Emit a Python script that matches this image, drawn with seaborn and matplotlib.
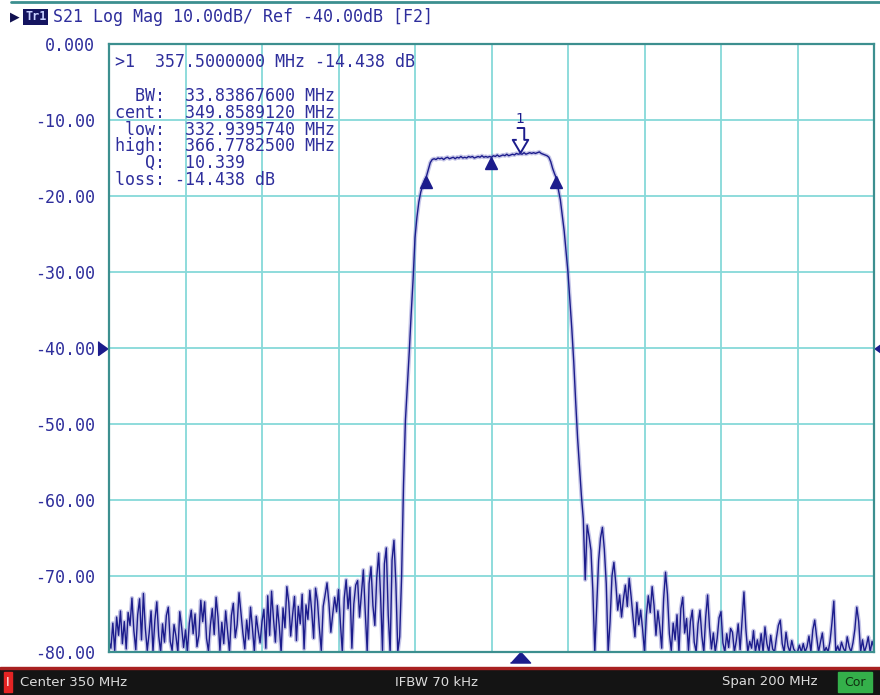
import numpy as np
import pandas as pd
import seaborn as sns
import matplotlib
matplotlib.use("Agg")
import matplotlib.pyplot as plt
from matplotlib.patches import Rectangle
from matplotlib.lines import Line2D

# sweep setup (linear sweep, 401 points)
start_mhz = 250.0
stop_mhz = 450.0
n_points = 401

# S21 log mag trace in dB, one row = 5 MHz (10 points of 0.5 MHz)
s21_db = [
    -78.6, -79.5, -76.2, -79.8, -75.4, -77.8, -74.6, -78.9, -76.0, -79.6,  # 250
    -74.8, -76.5, -72.9, -77.2, -79.7, -75.1, -73.0, -78.4, -72.3, -76.9,  # 255
    -79.8, -77.5, -74.6, -79.9, -75.8, -73.4, -77.9, -80.0, -76.3, -78.7,  # 260
    -75.2, -74.1, -78.6, -79.8, -76.4, -77.9, -80.0, -74.7, -76.8, -79.4,  # 265
    -77.1, -79.9, -76.2, -74.5, -77.6, -75.0, -79.3, -77.8, -73.2, -76.0,  # 270
    -73.4, -78.2, -79.9, -76.5, -74.3, -77.7, -72.8, -75.4, -79.8, -76.1,  # 275
    -78.9, -74.6, -77.3, -80.0, -75.2, -73.6, -78.1, -76.4, -72.2, -74.9,  # 280
    -77.5, -79.6, -75.8, -78.3, -74.1, -76.9, -79.9, -75.3, -77.2, -78.8,  # 285
    -76.0, -74.4, -79.5, -72.6, -77.8, -72.0, -75.6, -78.7, -73.9, -76.5,  # 290
    -80.0, -74.2, -76.8, -71.4, -73.5, -77.9, -75.1, -72.7, -78.5, -74.0,  # 295
    -76.3, -72.4, -79.6, -73.8, -75.7, -71.9, -74.6, -78.2, -71.6, -73.3,  # 300
    -76.9, -79.8, -74.0, -72.5, -70.9, -73.6, -77.4, -75.0, -72.8, -74.7,  # 305
    -71.8, -76.2, -80.0, -72.9, -70.5, -74.3, -71.5, -79.5, -73.7, -71.2,  # 310
    -70.6, -75.4, -72.3, -69.2, -74.8, -79.9, -71.0, -68.8, -73.9, -76.5,  # 315
    -70.2, -67.0, -72.6, -79.8, -68.4, -66.3, -75.1, -80.0, -67.9, -65.3,  # 320
    -71.0, -80.0, -78.0, -70.0, -58.0, -49.5, -45.0, -40.5, -35.5, -31.0,  # 325
    -25.5, -22.8, -20.8, -19.5, -18.6, -17.9, -17.4, -16.5, -15.6, -15.2,  # 330
    -15.1, -15.2, -15.0, -15.1, -15.0, -15.2, -15.0, -14.9, -15.1, -15.0,  # 335
    -14.9, -15.1, -14.9, -15.0, -14.8, -15.0, -14.9, -15.0, -14.8, -14.9,  # 340
    -14.8, -15.0, -14.9, -14.8, -14.9, -14.7, -14.9, -14.8, -14.9, -14.8,  # 345
    -14.9, -14.7, -14.8, -14.6, -14.8, -14.7, -14.6, -14.7, -14.5, -14.7,  # 350
    -14.6, -14.5, -14.6, -14.4, -14.5, -14.44, -14.5, -14.3, -14.5, -14.4,  # 355
    -14.3, -14.4, -14.3, -14.4, -14.3, -14.2, -14.4, -14.5, -14.6, -14.7,  # 360
    -14.9, -15.5, -16.4, -17.1, -17.7, -19.2, -20.5, -22.6, -24.6, -27.3,  # 365
    -30.1, -33.8, -37.5, -41.8, -47.0, -51.8, -55.5, -59.4, -62.5, -70.5,  # 370
    -63.3, -64.8, -66.6, -72.0, -80.0, -74.0, -68.0, -65.0, -63.6, -66.5,  # 375
    -71.0, -80.0, -76.0, -70.0, -68.2, -71.0, -74.5, -72.5, -75.4, -73.0,  # 380
    -71.2, -74.0, -70.3, -72.7, -75.5, -78.0, -73.5, -76.4, -74.5, -77.0,  # 385
    -80.0, -75.1, -72.6, -74.8, -71.4, -73.9, -77.8, -74.6, -76.7, -79.5,  # 390
    -73.0, -69.5, -72.4, -77.6, -79.8, -76.2, -78.4, -75.1, -80.0, -74.3,  # 395
    -72.8, -77.5, -75.6, -79.8, -76.0, -74.5, -78.7, -80.0, -76.3, -74.5,  # 400
    -77.9, -80.0, -75.4, -72.5, -76.8, -79.6, -77.5, -80.0, -78.2, -75.5,  # 405
    -74.7, -78.8, -80.0, -77.6, -79.4, -76.9, -77.4, -80.0, -78.5, -76.3,  # 410
    -79.7, -75.9, -72.1, -77.0, -80.0, -78.6, -79.5, -77.2, -80.0, -78.4,  # 415
    -79.8, -77.6, -80.0, -76.7, -78.9, -80.0, -77.8, -79.6, -80.0, -78.1,  # 420
    -76.5, -75.8, -78.9, -80.0, -77.4, -79.2, -80.0, -78.5, -79.6, -80.0,  # 425
    -80.0, -79.1, -80.0, -78.9, -80.0, -79.3, -77.9, -80.0, -77.1, -75.8,  # 430
    -78.0, -80.0, -78.7, -77.5, -80.0, -79.4, -80.0, -78.6, -76.2, -73.3,  # 435
    -80.0, -79.2, -80.0, -78.7, -79.5, -80.0, -78.0, -79.3, -80.0, -78.8,  # 440
    -77.0, -74.1, -76.0, -80.0, -78.4, -80.0, -79.2, -78.0, -80.0, -78.6,  # 445
    -79.5,                                                                 # 450
]
assert len(s21_db) == n_points

# bandwidth search markers
mkr_freq = 357.5
mkr_db = -14.438
bw_low = 332.9395740
bw_cent = 349.8589120
bw_high = 366.7782500
bw_db = -17.44
cent_db = -14.9

marker_lines = [
    "  BW:  33.83867600 MHz",
    "cent:  349.8589120 MHz",
    " low:  332.9395740 MHz",
    "high:  366.7782500 MHz",
    "   Q:  10.339",
    "loss: -14.438 dB",
]
y_ticks = [0, -10, -20, -30, -40, -50, -60, -70, -80]
y_labels = ["0.000", "-10.00", "-20.00", "-30.00", "-40.00",
            "-50.00", "-60.00", "-70.00", "-80.00"]
ref_level = -40.0

navy = "#1c1c8c"
text_blue = "#2e2e9c"

sns.set_style("white")
plt.rcParams['font.family'] = ['DejaVu Sans Mono', 'DejaVu Sans']

W, H = 880, 695
fig = plt.figure(figsize=(W / 100, H / 100), dpi=100)


def px(x, y):
    return x / W, 1 - y / H


L, R, T, B = 109, 874, 44, 652
ax = fig.add_axes([L / W, 1 - B / H, (R - L) / W, (B - T) / H])

df = pd.DataFrame({"freq": np.linspace(start_mhz, stop_mhz, n_points), "s21": s21_db})
sns.lineplot(data=df, x="freq", y="s21", ax=ax, color="#8c8cd0", lw=3.0, alpha=0.5)
sns.lineplot(data=df, x="freq", y="s21", ax=ax, color=navy, lw=1.0)

ax.set_xlim(start_mhz, stop_mhz)
ax.set_ylim(-80, 0)
ax.set_xticks(np.arange(start_mhz, stop_mhz + 1, 20))
ax.set_yticks(y_ticks)
ax.set_yticklabels(y_labels, color=text_blue, fontsize=12)
ax.set_xticklabels([])
ax.tick_params(length=0, pad=10)
ax.set_xlabel("")
ax.set_ylabel("")
ax.grid(True, color="#86d9d9", lw=1.3)
ax.set_axisbelow(True)
for sp in ax.spines.values():
    sp.set_color("#3c8f8f")
    sp.set_linewidth(1.6)

# bandwidth markers (apex on the trace)
ax.plot([bw_low, bw_high], [bw_db - 0.75, bw_db - 0.75], ls="none", marker="^",
        ms=9, color=navy)
ax.plot([bw_cent], [cent_db - 0.75], ls="none", marker="^", ms=9, color=navy)

# active marker 1: hollow arrow above the trace
arrow = [(-0.3, 1), (0.3, 1), (0.3, 0.05), (0.62, 0.05), (0, -1), (-0.62, 0.05),
         (-0.3, 0.05)]
ax.plot([mkr_freq], [mkr_db + 1.75], ls="none", marker=arrow, ms=18,
        mfc="white", mec=navy, mew=1.4)
ax.text(mkr_freq, mkr_db + 3.6, "1", ha="center", va="bottom", color=navy,
        fontsize=10, family="DejaVu Sans")

# stimulus indicator below the axis
flat_up = [(-1, -0.55), (1, -0.55), (0, 0.55)]
ax.plot([mkr_freq], [-80.7], ls="none", marker=flat_up, ms=14.5, color=navy,
        clip_on=False)

# reference level arrows
ax.plot([-0.008], [ref_level], transform=ax.get_yaxis_transform(), ls="none",
        marker=[(-0.7, 1), (-0.7, -1), (0.7, 0)], ms=10, color=navy, clip_on=False)
ax.plot([1.0065], [ref_level], transform=ax.get_yaxis_transform(), ls="none",
        marker=[(0.7, 1), (0.7, -1), (-0.7, 0)], ms=10, color=navy, clip_on=False)

# marker readout
fig.text(*px(115, 62), ">1  %.7f MHz %.3f dB" % (mkr_freq, mkr_db), color=text_blue,
         fontsize=12, va="center", ha="left")
for i, line in enumerate(marker_lines):
    fig.text(*px(115, 96 + i * 16.8), line, color=text_blue, fontsize=12,
             va="center", ha="left")

# header
fig.add_artist(Line2D([0.012, 1], [1 - 2 / H, 1 - 2 / H], color="#3c8f8f", lw=2))
fig.text(*px(10, 17), "\u25b6", color="#101050", fontsize=9, va="center", ha="left",
         family="DejaVu Sans")
fig.text(*px(25, 17), "Tr1", color="#c8d0ff", fontsize=8.5, va="center", ha="left",
         fontweight="bold",
         bbox=dict(boxstyle="square,pad=0.15", fc="#141460", ec="none"))
fig.text(*px(53, 17), "S21 Log Mag 10.00dB/ Ref -40.00dB [F2]", color=text_blue,
         fontsize=12, va="center", ha="left")

# status bar
fig.add_artist(Rectangle((0, 0), 1, 27 / H, transform=fig.transFigure,
                         color="#141414", zorder=0))
fig.add_artist(Rectangle((0, 26 / H), 1, 2 / H, transform=fig.transFigure,
                         color="#a82020", zorder=1))
fig.add_artist(Rectangle(px(4, 692), 8 / W, 20 / H, transform=fig.transFigure,
                         color="#e42424", zorder=2))
fig.text(*px(8, 682), "I", color="white", fontsize=9, va="center", ha="center",
         family="DejaVu Sans")
fig.add_artist(Rectangle(px(838, 692), 34 / W, 20 / H, transform=fig.transFigure,
                         color="#34b04a", zorder=2))
fig.text(*px(855, 682), "Cor", color="#103010", fontsize=9, va="center",
         ha="center", family="DejaVu Sans")
fig.text(*px(20, 682), "Center 350 MHz", color="#dcdcdc", fontsize=9.5,
         va="center", ha="left", family="DejaVu Sans")
fig.text(*px(436, 682), "IFBW 70 kHz", color="#dcdcdc", fontsize=9.5,
         va="center", ha="center", family="DejaVu Sans")
fig.text(*px(817, 682), "Span 200 MHz", color="#dcdcdc", fontsize=9.5,
         va="center", ha="right", family="DejaVu Sans")

fig.savefig("out.png", dpi=100)
